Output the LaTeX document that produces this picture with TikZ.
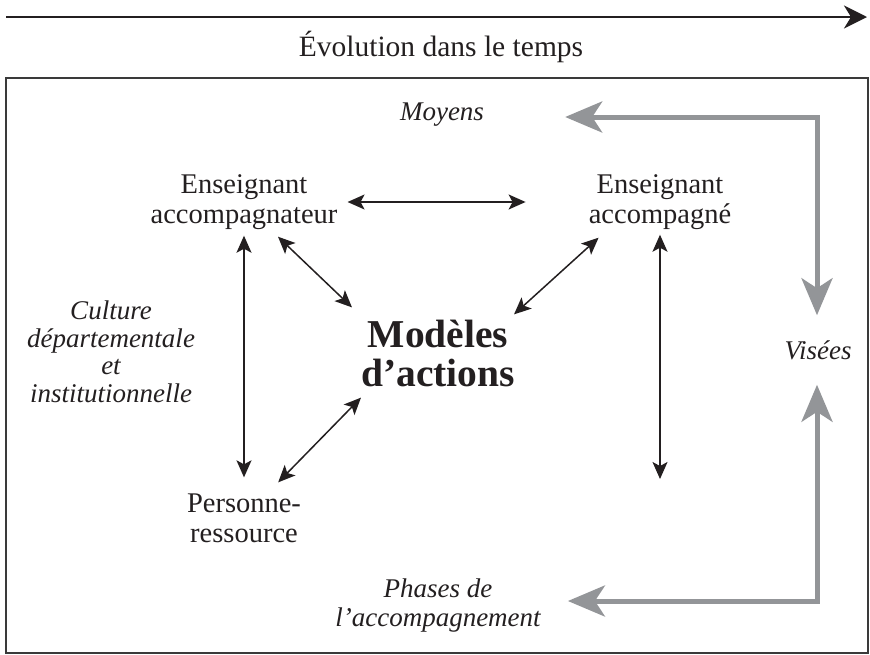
\documentclass[tikz,border=0pt]{standalone}
\usepackage{fontspec}
\setmainfont{Liberation Serif}
\usetikzlibrary{arrows.meta,calc}
\definecolor{ink}{HTML}{231F20}
\definecolor{framegray}{HTML}{3A3A3A}
\definecolor{arrowgray}{HTML}{939598}
\tikzset{
  lbl/.style={align=center, text=ink, inner sep=0pt,
    font=\fontsize{28.5}{30}\selectfont},
  cue/.style={align=center, text=ink, inner sep=0pt,
    font=\fontsize{27}{27.5}\selectfont\itshape},
  hub/.style={align=center, text=ink, inner sep=0pt,
    font=\fontsize{39.5}{39}\selectfont\bfseries},
  link/.style={draw=ink, line width=1.5pt,
    {Stealth[length=17pt,width=15pt,inset=4pt]}-{Stealth[length=17pt,width=15pt,inset=4pt]}},
  flow/.style={draw=arrowgray, line width=5pt, line join=miter,
    {Stealth[length=37pt,width=31pt,inset=10pt]}-{Stealth[length=37pt,width=31pt,inset=10pt]}},
  timeline/.style={draw=ink, line width=2.7pt,
    -{Stealth[length=23pt,width=23pt,inset=7pt]}},
  frame/.style={draw=framegray, line width=1.5pt}
}
\begin{document}
\begin{tikzpicture}[x=1pt,y=-1pt]
\useasboundingbox (0,0) rectangle (870,654);

% time axis and its caption
\coordinate (t0) at (6,17);
\coordinate (t1) at (867,17);
\draw[timeline] (t0) -- (t1);
\node[lbl, font=\fontsize{29.5}{30}\selectfont] (time) at (441,47) {Évolution dans le temps};

% outer frame
\draw[frame] (6,78) rectangle (868,653);

% actors
\node[lbl] (ea)  at (244,202) {Enseignant\\accompagnateur};
\node[lbl] (eb)  at (660,202) {Enseignant\\accompagné};
\node[lbl] (pr)  at (244,518) {Personne-\\ressource};
\node[hub] (mod) at (438,353) {Modèles\\d’actions};

% context labels
\node[cue] (moyens) at (442,115) {Moyens};
\node[cue] (culture) at (111,352) {Culture\\départementale\\et\\institutionnelle};
\node[cue] (visees) at (818,350) {Visées};
\node[cue, font=\fontsize{27}{29}\selectfont\itshape] (phases) at (438,605) {Phases de\\l’accompagnement};

% relations between actors
\draw[link, shorten <=10pt, shorten >=63pt] (ea.east) -- (eb.west);
\draw[link, shorten <=6pt, shorten >=16pt] (ea.south) -- (pr.north);
\coordinate (ebend) at (660,479);
\draw[link, shorten <=5pt] (eb.south) -- (ebend);
\draw[link] ($(ea.south)+(34,7)$) -- ($(mod.north west)+(-9,-12)$);
\draw[link] ($(eb.south west)+(10,8)$) -- ($(mod.north east)+(-1,-5)$);
\draw[link] ($(pr.north east)+(-23,-11)$) -- ($(mod.south west)+(0,11)$);

% means / aims / phases loop
\draw[flow] ($(moyens.east)+(81,2)$) -| ($(visees.north)+(-1,-25)$);
\draw[flow] ($(phases.east)+(27,-4)$) -| ($(visees.south)+(-1,25)$);
\end{tikzpicture}
\end{document}
